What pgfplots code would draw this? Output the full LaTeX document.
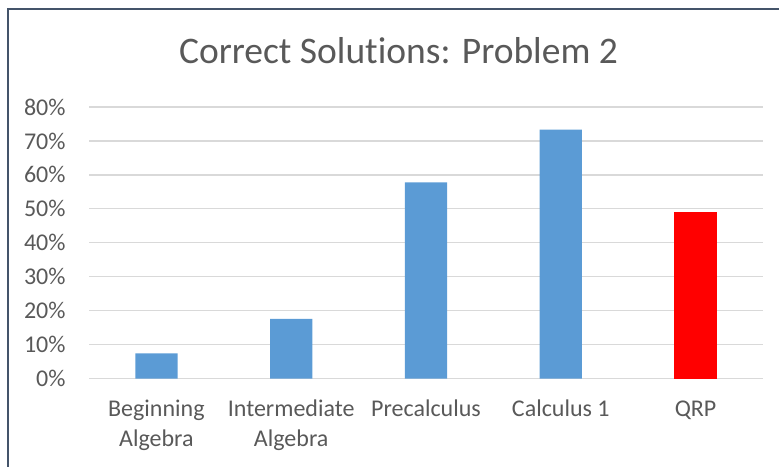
\documentclass[border=0pt]{standalone}
\usepackage{pgfplots}
\pgfplotsset{compat=1.18}
\usepackage{fontspec}
\setmainfont{Carlito}[Ligatures=NoCommon]
\definecolor{txt}{HTML}{595959}
\definecolor{gridc}{HTML}{D9D9D9}
\definecolor{barblue}{HTML}{5B9BD5}
\definecolor{barred}{HTML}{FF0000}
\definecolor{frame}{HTML}{44546A}
\begin{document}
\begin{tikzpicture}
\path[use as bounding box] (0,0) rectangle (779pt,466pt);
\draw[frame, line width=2pt] (7.8pt,-5pt) -- (7.8pt,457.3pt) -- (785pt,457.3pt);
\node[anchor=base, text=txt, font=\fontsize{37.5}{45}\selectfont, inner sep=0pt] at (398.5pt,402.7pt) {Correct Solutions: Problem 2};
\begin{axis}[
  at={(89pt,87.5pt)}, anchor=south west,
  scale only axis, width=674pt, height=271.5pt,
  xmin=-0.5, xmax=4.5, ymin=0, ymax=80,
  ytick={0,10,...,80},
  yticklabel={\pgfmathprintnumber{\tick}\%},
  xtick={0,1,2,3,4},
  xticklabels={{\strut Beginning\\Algebra},{\strut Intermediate\\Algebra},{\strut Precalculus},{\strut Calculus 1},{\strut QRP}},
  /pgf/number format/assume math mode=true,
  axis line style={draw=none},
  major tick length=0pt,
  ymajorgrids, major grid style={gridc, line width=1.3pt},
  tick label style={text=txt, font=\fontsize{24}{29.3}\selectfont},
  yticklabel style={anchor=east, inner sep=0pt, xshift=-23.3pt},
  xticklabel style={anchor=north, align=center, inner sep=0pt, yshift=-17.7pt},
  ybar, bar width=42.3pt, bar shift=0pt,
  clip=false,
]
\addplot[fill=barblue, draw=none] coordinates {(0,7.4) (1,17.6) (2,57.8) (3,73.3)};
\addplot[fill=barred, draw=none] coordinates {(4,49.2)};
\end{axis}
\end{tikzpicture}
\end{document}
